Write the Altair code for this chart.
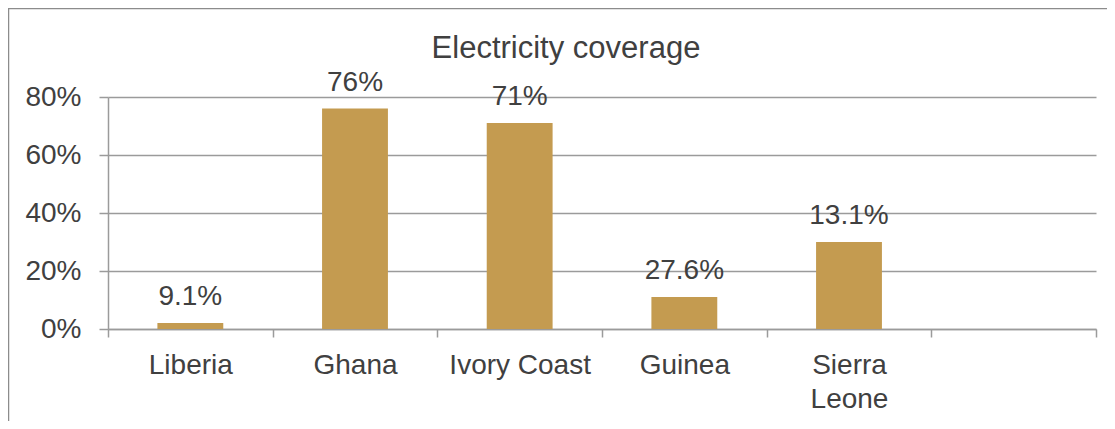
import altair as alt
import pandas as pd

# ---- data ----
countries = ["Liberia", "Ghana", "Ivory Coast", "Guinea", "Sierra Leone"]
coverage = [0.021, 0.76, 0.71, 0.11, 0.30]          # bar heights
labels = ["9.1%", "76%", "71%", "27.6%", "13.1%"]    # printed data labels
domain = countries + [" "]                           # sixth, empty slot
y_ticks = [0, 0.2, 0.4, 0.6, 0.8]

df = pd.DataFrame({"country": countries, "coverage": coverage, "label": labels})

FONT = "Liberation Sans"
TXT = "#404040"
GRID = "#9b9b9b"
BAR = "#C49B50"
BORDER = "#8c8c8c"

x = alt.X(
    "country:N",
    sort=domain,
    scale=alt.Scale(domain=domain, paddingInner=0, paddingOuter=0),
    axis=alt.Axis(
        title=None, labelAngle=0, tickBand="extent", ticks=True, tickSize=8,
        tickColor=GRID, tickWidth=1.5, domainColor=GRID, domainWidth=1.5,
        labelFontSize=28, labelFont=FONT, labelColor=TXT, labelPadding=14,
        labelLineHeight=34, labelOverlap=False, labelLimit=300,
        labelExpr="datum.label == 'Sierra Leone' ? ['Sierra', 'Leone'] : datum.label",
        grid=False, labelBaseline="top",
    ),
)
y = alt.Y(
    "coverage:Q",
    scale=alt.Scale(domain=[0, 0.8], nice=False),
    axis=alt.Axis(
        title=None, values=y_ticks, format=".0%", tickSize=9, tickColor=GRID,
        tickWidth=1.5, domainColor=GRID, domainWidth=1.5, grid=True,
        gridColor=GRID, gridWidth=1.5, labelFontSize=28, labelFont=FONT,
        labelColor=TXT, labelPadding=18,
    ),
)

base = alt.Chart(df)
bars = base.mark_bar(width=alt.RelativeBandSize(0.4), color=BAR).encode(x=x, y=y)
text = base.mark_text(dy=-18, fontSize=28, font=FONT, color=TXT, baseline="alphabetic").encode(
    x=x, y=y, text="label:N"
)

frame_df = pd.DataFrame({"a": [0]})
top_rule = alt.Chart(frame_df).mark_rule(color=BORDER, strokeWidth=1.5).encode(
    x=alt.value(-100), x2=alt.value(1100), y=alt.value(-88.5)
)
left_rule = alt.Chart(frame_df).mark_rule(color=BORDER, strokeWidth=1.5).encode(
    x=alt.value(-99.5), y=alt.value(-88.5), y2=alt.value(400)
)

chart = (
    alt.layer(top_rule, left_rule, bars, text)
    .properties(
        width=988,
        height=232,
        padding={"left": 100, "top": 89, "right": 11, "bottom": 92},
        autosize=alt.AutoSizeParams(type="none"),
        background="white",
        title=alt.Title(
            text="Electricity coverage", fontSize=31, font=FONT, color=TXT,
            fontWeight="normal", anchor="middle", frame="group", dx=-36,
            offset=-81, baseline="alphabetic",
        ),
    )
    .configure_view(strokeWidth=0)
)

chart.save("out.html", embed_options={"renderer": "svg", "actions": False})
